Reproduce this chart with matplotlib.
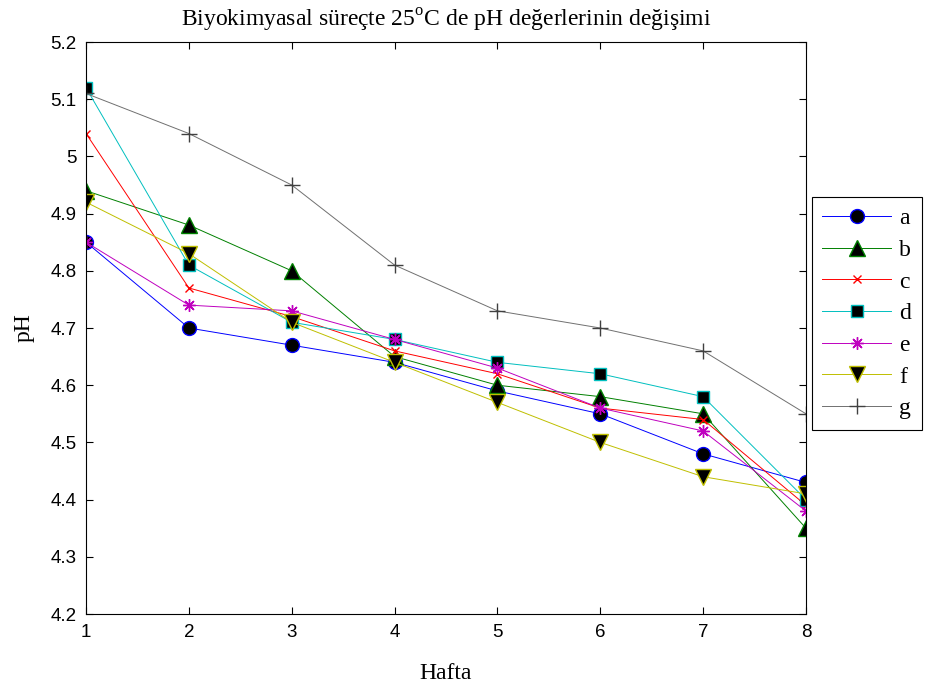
import numpy as np
import matplotlib
matplotlib.use('Agg')
import matplotlib.pyplot as plt

# weeks and pH series
hafta = [1, 2, 3, 4, 5, 6, 7, 8]
ph_a = [4.85, 4.70, 4.67, 4.64, 4.59, 4.55, 4.48, 4.43]
ph_b = [4.94, 4.88, 4.80, 4.65, 4.60, 4.58, 4.55, 4.35]
ph_c = [5.04, 4.77, 4.72, 4.66, 4.62, 4.56, 4.54, 4.39]
ph_d = [5.12, 4.81, 4.71, 4.68, 4.64, 4.62, 4.58, 4.40]
ph_e = [4.85, 4.74, 4.73, 4.68, 4.63, 4.56, 4.52, 4.38]
ph_f = [4.92, 4.83, 4.71, 4.64, 4.57, 4.50, 4.44, 4.41]
ph_g = [5.11, 5.04, 4.95, 4.81, 4.73, 4.70, 4.66, 4.55]

yticks = [4.2, 4.3, 4.4, 4.5, 4.6, 4.7, 4.8, 4.9, 5.0, 5.1, 5.2]
ytick_labels = ['4.2', '4.3', '4.4', '4.5', '4.6', '4.7', '4.8', '4.9', '5', '5.1', '5.2']

serif = 'Liberation Serif'
sans = 'Liberation Sans'
plt.rcParams['mathtext.fontset'] = 'custom'
plt.rcParams['mathtext.rm'] = serif

fig = plt.figure(figsize=(9.28, 6.83), dpi=100)
ax = fig.add_axes([0.0927, 0.101, 0.7758, 0.8375])

lw = 0.7
ax.plot(hafta, ph_a, '-o', color='#0000ff', mfc='k', mec='#0000ff', ms=10, lw=lw, label='a')
ax.plot(hafta, ph_b, '-^', color='#008000', mfc='k', mec='#008000', ms=11, lw=lw, label='b')
ax.plot(hafta, ph_c, '-x', color='#ff0000', ms=6, mew=1, lw=lw, label='c')
ax.plot(hafta, ph_d, '-s', color='#00bfbf', mfc='k', mec='#00bfbf', ms=9, lw=lw, label='d')
ax.plot(hafta, ph_e, '-', marker=(8, 2, 0), color='#bf00bf', ms=9, mew=1, lw=lw, label='e')
ax.plot(hafta, ph_f, '-v', color='#bfbf00', mfc='k', mec='#bfbf00', ms=11, lw=lw, label='f')
ax.plot(hafta, ph_g, '-+', color='#707070', mec='#404040', ms=11, mew=1, lw=lw, label='g')

ax.set_xlim(1, 8)
ax.set_ylim(4.2, 5.2)
ax.set_xticks(hafta)
ax.set_yticks(yticks)
ax.set_yticklabels(ytick_labels)
ax.tick_params(direction='in', top=True, right=True, length=5, width=0.8,
               labelsize=13.5, pad=7)
for lab in ax.get_xticklabels() + ax.get_yticklabels():
    lab.set_family(sans)
for sp in ax.spines.values():
    sp.set_linewidth(0.8)

ax.set_title('Biyokimyasal süreçte 25$^{\\mathrm{o}}$C de pH değerlerinin değişimi',
             family=serif, fontsize=17, pad=11)
ax.set_xlabel('Hafta', family=serif, fontsize=17, labelpad=16)
ax.set_ylabel('pH', family=serif, fontsize=17, labelpad=11)

leg = ax.legend(loc='upper left', bbox_to_anchor=(1.008, 0.729), fancybox=False,
                edgecolor='k', prop={'family': serif, 'size': 17},
                handlelength=2.9, borderaxespad=0, labelspacing=0.43,
                borderpad=0.45, handletextpad=0.35, framealpha=1)
leg.get_frame().set_linewidth(0.8)

plt.savefig('out.png', dpi=100)
